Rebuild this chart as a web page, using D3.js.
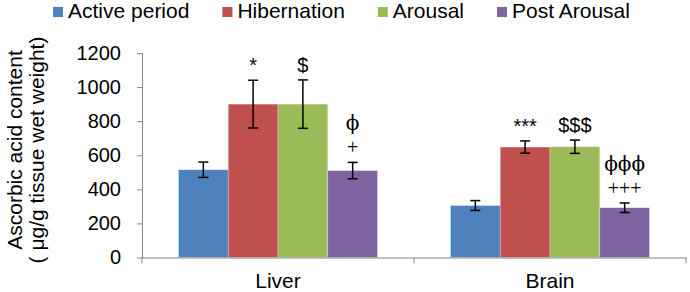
<!DOCTYPE html>
<html>

<head>
  <style>
    body,
    html {
      margin: 0;
      padding: 0;
      background: #fff;
    }

    #svg text {
      font-family: "Liberation Sans", Arial, sans-serif;
    }
  </style>
</head>

<body>

  <svg id="svg" width="690" height="292"></svg>

  <script src="https://d3js.org/d3.v7.min.js"></script>
  <script>
    const organs = ["Liver", "Brain"]
    const periods = ["Active period", "Hibernation", "Arousal", "Post Arousal"]
    const colors = ["#4f81bd", "#c0504d", "#9bbb59", "#8064a2"]

    const liverMean = [515, 900, 900, 510]
    const liverSem = [45, 140, 142, 48]
    const brainMean = [305, 648, 650, 292]
    const brainSem = [29, 36, 39, 28]

    // significance marks, listed bottom to top
    const liverMarks = [[], ["*"], ["$"], ["+", "ϕ"]]
    const brainMarks = [[], ["***"], ["$$$"], ["+++", "ϕϕϕ"]]

    const yTicks = [0, 200, 400, 600, 800, 1000, 1200]
    const yTitle = ["Ascorbic acid content", "( μg/g tissue wet weight)"]

    const rows = [
      { organ: "Liver", mean: liverMean, sem: liverSem, marks: liverMarks },
      { organ: "Brain", mean: brainMean, sem: brainSem, marks: brainMarks }
    ]
    const bars = rows.flatMap(r => periods.map((p, i) => ({
      organ: r.organ, period: p, i, mean: r.mean[i], sem: r.sem[i], marks: r.marks[i]
    })))

    const plotLeft = 142, plotRight = 686, plotTop = 53, plotBottom = 257.5
    const axisColor = "#868686"

    const svg = d3.select("#svg")

    const y = d3.scaleLinear()
      .domain([0, 1200])
      .range([plotBottom, plotTop])

    const x0 = d3.scaleBand()
      .domain(organs)
      .range([plotLeft, plotRight])
    const bw = x0.bandwidth()
    const x1 = d3.scaleBand()
      .domain(periods)
      .range([bw * 0.134, bw * 0.866])

    const color = d3.scaleOrdinal().domain(periods).range(colors)

    // bars
    svg.append("g")
      .selectAll("rect")
      .data(bars)
      .enter()
      .append("rect")
      .attr("x", d => x0(d.organ) + x1(d.period))
      .attr("y", d => y(d.mean))
      .attr("width", x1.bandwidth())
      .attr("height", d => y(0) - y(d.mean))
      .attr("fill", d => color(d.period))
      .attr("stroke", "#fff")
      .attr("stroke-opacity", 0.5)
      .attr("stroke-width", 0.6)

    // error bars
    const err = svg.append("g")
      .attr("stroke", "#000")
      .attr("stroke-width", 1.5)
    const cx = d => x0(d.organ) + x1(d.period) + x1.bandwidth() / 2
    err.selectAll("line.v")
      .data(bars)
      .enter()
      .append("line")
      .attr("x1", cx).attr("x2", cx)
      .attr("y1", d => y(d.mean + d.sem))
      .attr("y2", d => y(d.mean - d.sem))
    ;["top", "bot"].forEach(k => {
      err.selectAll("line." + k)
        .data(bars)
        .enter()
        .append("line")
        .attr("class", k)
        .attr("x1", d => cx(d) - 5).attr("x2", d => cx(d) + 5)
        .attr("y1", d => y(k === "top" ? d.mean + d.sem : d.mean - d.sem))
        .attr("y2", d => y(k === "top" ? d.mean + d.sem : d.mean - d.sem))
    })

    // significance marks
    const markFont = m => {
      if (m.includes("ϕ")) return "'DejaVu Serif', serif"
      if (m.includes("+")) return "'Liberation Serif', serif"
      return null
    }
    const markData = bars.flatMap(d => d.marks.map((m, j) => ({ ...d, m, j })))
    svg.append("g")
      .selectAll("text")
      .data(markData)
      .enter()
      .append("text")
      .attr("x", cx)
      .attr("y", d => y(d.mean + d.sem) - 15 - d.j * 24)
      .attr("dominant-baseline", "central")
      .attr("text-anchor", "middle")
      .attr("fill", "#000")
      .style("font-size", "20px")
      .style("font-family", d => markFont(d.m))
      .text(d => d.m)

    // y axis
    const leftAxis = d3.axisLeft(y)
      .tickValues(yTicks)
      .tickFormat(d3.format("d"))
      .tickSize(5)
      .tickSizeOuter(0)
      .tickPadding(16)
    const ya = svg.append("g")
      .attr("transform", `translate(${plotLeft}, 0)`)
      .call(leftAxis)
    ya.selectAll("path, line").attr("stroke", axisColor)
    ya.selectAll("text").attr("fill", "#000").style("font-size", "20px")

    // x axis
    const bottomAxis = d3.axisBottom(x0)
      .tickSize(0)
      .tickSizeOuter(0)
      .tickPadding(16)
    const xa = svg.append("g")
      .attr("transform", `translate(0, ${plotBottom})`)
      .call(bottomAxis)
    xa.selectAll("path").attr("stroke", axisColor)
    xa.selectAll("text").attr("fill", "#000").style("font-size", "21px")
    xa.selectAll("line.sep")
      .data([...organs.map(o => x0(o)), plotRight])
      .enter()
      .append("line")
      .attr("class", "sep")
      .attr("x1", d => d).attr("x2", d => d)
      .attr("y1", 0).attr("y2", 6)
      .attr("stroke", axisColor)

    // y title
    const yt = svg.append("g")
      .attr("transform", `translate(0, 150) rotate(-90)`)
    yt.selectAll("text")
      .data(yTitle)
      .enter()
      .append("text")
      .attr("x", 0)
      .attr("y", (d, i) => 22 + i * 22)
      .attr("text-anchor", "middle")
      .style("font-size", "21px")
      .text(d => d)

    // legend
    const legend = svg.append("g")
    let lx = 53
    periods.forEach(p => {
      legend.append("rect")
        .attr("x", lx).attr("y", 7)
        .attr("width", 10).attr("height", 10)
        .attr("fill", color(p))
      const t = legend.append("text")
        .attr("x", lx + 15).attr("y", 17.5)
        .style("font-size", "21px")
        .text(p)
      lx += 15 + t.node().getComputedTextLength() + 33
    })
  </script>
</body>

</html>
